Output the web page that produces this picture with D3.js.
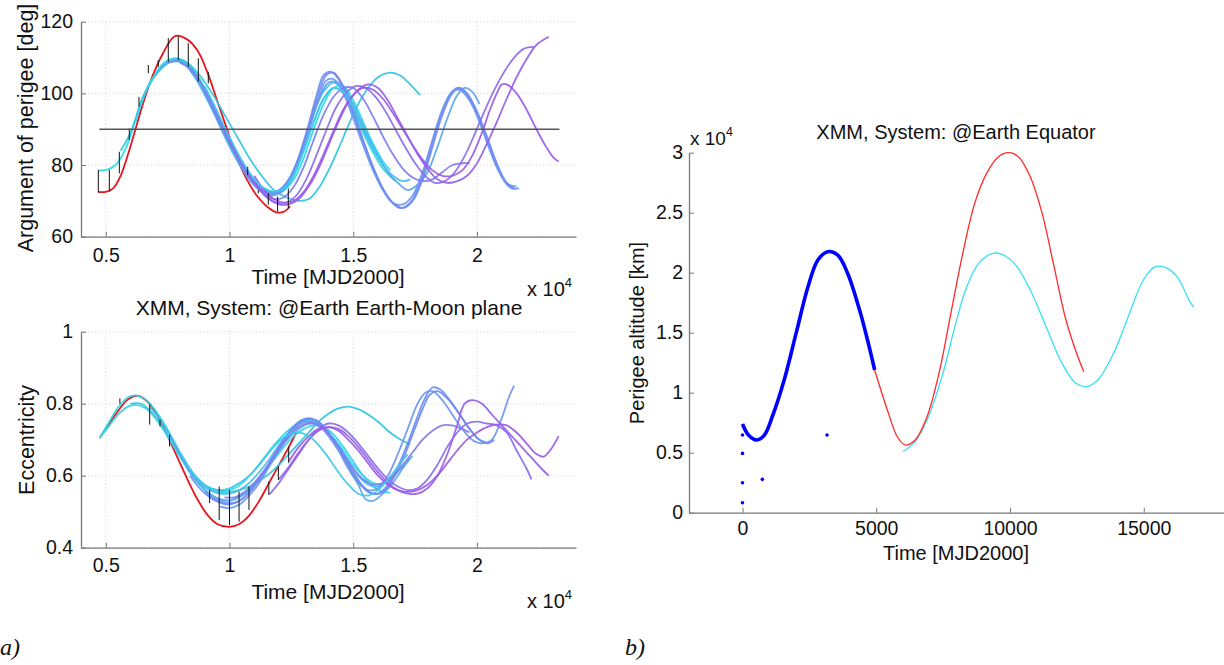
<!DOCTYPE html>
<html>
<head>
<meta charset="utf-8">
<script src="https://cdn.jsdelivr.net/npm/d3@7"></script>
<style>
  body { margin: 0; background: #fff; }
  text { font-family: "Liberation Sans", Arial, sans-serif; fill: #111; }
</style>
</head>
<body>
<div id="main"></div>
<script>
// ---------- data : left panels (time in MJD2000) ----------
const leftXTicks = [5000, 10000, 15000, 20000];
const leftXTickLabels = ['0.5', '1', '1.5', '2'];
const argYTicks = [60, 80, 100, 120];
const eccYTicks = [0.4, 0.6, 0.8, 1];
const eccYTickLabels = ['0.4', '0.6', '0.8', '1'];

// reference trajectory (red)
const argRed = [[4700,72.5],[5000,72.5],[5300,73.5],[5600,77],[5900,83],[6200,90],[6500,97],[6900,105],[7300,111],[7800,116],[8300,115],[8700,112],[9100,106],[9500,98],[9900,90],[10300,82],[10700,76],[11100,71.5],[11500,68.5],[11900,66.8],[12200,67],[12450,68.5]];

// other trajectories, cyan -> purple
const argCurves = [
  [[4700,78.5],[5000,78.6],[5400,80],[5800,84.5],[6200,92.5],[6600,100.5],[7000,105.5],[7400,108.8],[7800,109.8],[8200,109],[8600,106],[9000,101.5],[9400,96],[9800,90.5],[10200,85],[10600,80],[11000,76],[11400,73.5],[11800,72.5],[12200,73],[12600,76],[13000,82],[13400,90],[13800,97],[14200,101.5],[14600,102],[15000,98],[15400,92],[15800,86],[16200,81],[16500,78.5]],
  [[5600,84],[6000,89],[6500,99],[7000,105],[7500,108.5],[7900,109.5],[8300,108.5],[8800,105],[9300,100],[9800,94],[10300,88],[10800,82],[11300,77],[11800,73],[12300,71],[12800,70],[13200,70.5],[13600,73.5],[14000,78.5],[14400,84.5],[14800,91],[15200,97],[15600,101.5],[16000,104.5],[16500,105.8],[16900,105],[17300,102.5],[17700,99.5]],
  [[6200,92],[6600,100],[7000,105],[7400,108],[7800,109.3],[8200,108.5],[8600,105.5],[9000,100.5],[9400,95],[9800,89],[10200,83.5],[10600,79],[11000,75.5],[11400,73],[11800,72],[12200,73],[12600,77],[13000,84],[13400,92],[13800,98.5],[14200,101.5],[14600,100],[15000,95],[15400,89],[15800,83.5],[16200,79],[16700,75.5]],
  [[7000,105],[7400,108],[7800,109],[8200,108],[8600,104.5],[9000,99.5],[9400,94],[9800,88],[10200,82.5],[10600,78],[11000,74.5],[11400,72.5],[11800,72],[12200,73.5],[12600,78.5],[13000,86],[13400,94.5],[13800,100.5],[14200,103],[14600,101],[15000,96],[15400,90],[15800,84.5],[16200,80],[16600,77],[17000,75.5],[17300,76]],
  [[7200,107],[7600,109],[8000,109],[8400,107],[8800,103],[9200,97.5],[9600,91.5],[10000,86],[10400,81],[10800,77],[11200,74],[11600,72.5],[12000,73],[12400,76],[12800,82],[13200,90],[13600,98],[14000,103],[14400,103],[14800,99.5],[15200,94],[15600,88],[16000,82.5],[16400,78],[16800,75],[17200,73],[17600,74.5],[18000,78],[18400,85],[18800,93],[19200,99.5],[19500,101.5],[19800,100.5],[20100,97]],
  [[7500,108.5],[7900,109],[8300,107.5],[8700,104],[9100,99],[9500,93],[9900,87.5],[10300,82],[10700,77.5],[11100,74.5],[11500,72.5],[11900,72.5],[12300,75],[12700,80.5],[13100,89],[13500,99],[13800,105],[14100,106],[14500,103],[14900,96],[15300,88.5],[15700,81],[16100,74.5],[16500,70],[16900,68],[17300,69.5],[17700,75],[18100,84],[18500,93],[18900,99.5],[19200,101.5],[19500,100.5],[19900,96],[20300,89],[20700,81.5],[21100,75.5],[21400,73.5],[21700,73.5]],
  [[8000,108.5],[8400,107],[8800,103.5],[9200,98],[9600,92],[10000,86.5],[10400,81],[10800,76.5],[11200,73.5],[11600,72],[12000,72.5],[12400,75.5],[12800,81.5],[13200,90.5],[13600,100],[13900,105],[14200,105.8],[14600,102],[15000,95],[15400,87],[15800,79.5],[16200,73.5],[16600,69.5],[17000,68],[17400,70],[17800,76],[18200,85],[18600,94],[19000,100],[19300,101.5],[19600,100],[20000,95],[20400,88],[20800,80.5],[21200,75],[21500,73.5]],
  [[8400,106.5],[8800,103],[9200,97.5],[9600,91.5],[10000,86],[10400,80.5],[10800,76],[11200,73],[11600,71.5],[12000,72],[12400,75],[12800,81],[13200,89.5],[13600,98.5],[13900,103.5],[14200,104],[14600,100],[15000,93],[15400,85.5],[15800,78.5],[16200,73],[16600,69.5],[17000,69],[17400,71.5],[17800,78],[18200,87],[18600,95.5],[19000,100.5],[19300,101],[19700,98],[20100,92],[20500,84.5],[20900,78],[21300,74.5],[21600,74]],
  [[9000,101],[9400,95.5],[9800,89.5],[10200,84],[10600,79],[11000,75],[11400,72],[11800,70.5],[12200,71],[12600,74],[13000,79.5],[13400,87],[13800,94],[14200,99],[14600,101.5],[15000,101.5],[15400,98.5],[15800,93.5],[16200,88],[16600,83],[17000,79],[17400,76.5],[17800,75.5],[18200,76],[18600,78],[19000,80],[19400,80.5],[19700,80.5]],
  [[9500,94],[9900,88.5],[10300,83],[10700,78],[11100,74],[11500,71],[11900,69.5],[12300,69.5],[12700,71.5],[13100,76],[13500,82.5],[13900,89.5],[14300,96],[14700,100],[15100,102],[15500,101.5],[15900,99],[16300,95],[16700,90],[17100,85],[17500,80.5],[17900,77],[18300,75],[18700,75.5],[19100,78],[19500,82.5],[19900,88.5],[20300,95],[20700,101],[21100,106],[21500,110],[21900,112.5],[22300,113]],
  [[10000,87],[10400,82],[10800,77.5],[11200,73.5],[11600,70.5],[12000,69],[12400,69],[12800,70.5],[13200,74],[13600,79],[14000,85.5],[14400,92],[14800,97.5],[15200,101],[15600,102.5],[16000,101.5],[16400,98],[16800,93],[17200,88],[17600,83],[18000,79],[18400,76],[18800,75],[19200,75.5],[19600,77],[20000,80.5],[20400,86],[20800,92],[21200,98.5],[21600,104.5],[22000,109.5],[22400,113.5],[22900,115.8]],
  [[11000,77],[11400,73],[11800,70.5],[12200,69.5],[12600,70],[13000,72.5],[13400,77],[13800,83],[14200,89.5],[14600,95.5],[15000,99.5],[15400,101.5],[15800,101],[16200,98.5],[16600,94.5],[17000,90],[17400,85.5],[17800,81.5],[18200,78.5],[18600,77],[19000,77],[19400,78.5],[19800,82.5],[20200,89],[20500,95],[20800,100],[21000,102.5],[21200,102.5],[21600,100],[22000,95.5],[22400,90],[22800,85],[23100,82],[23300,81]],
  [[9000,102],[9400,96.5],[9800,90.5],[10200,85],[10600,80],[11000,76],[11400,73.5],[11800,72.5],[12200,73.5],[12600,77.5],[13000,84],[13400,92],[13800,98.5],[14200,101.5],[14600,100.5],[15000,96],[15400,90],[15800,84.5],[16200,80]]
];

// black jumps between red and the others: [time, low, high]
const argJumps = [[4700,72.3,78.6],[5145,72.6,78.6],[5548,77.7,83.7],[5952,87,90.2],[6343,96.3,99],[6720,105.6,107.9],[7123,107.4,109.3],[7527,108.8,115.4],[7931,109.3,116],[8335,107.4,114],[8739,103.3,109.8],[9143,102.8,106],[10735,77.2,79.5],[11164,72.1,73],[11568,68.9,72.1],[11943,67,71.2],[12376,67.9,73.5]];
const argLevel = [[4740,90],[23330,90]];

const eccRed = [[4750,0.705],[5100,0.74],[5500,0.78],[5900,0.812],[6300,0.822],[6700,0.805],[7100,0.765],[7500,0.71],[7900,0.65],[8300,0.59],[8700,0.535],[9100,0.492],[9500,0.466],[10000,0.458],[10400,0.466],[10800,0.49],[11200,0.53],[11600,0.58],[12000,0.63],[12400,0.68],[12700,0.72]];

const eccCurves = [
  [[4750,0.705],[5100,0.745],[5500,0.79],[5900,0.818],[6200,0.823],[6600,0.812],[7000,0.782],[7400,0.74],[7800,0.69],[8200,0.64],[8600,0.6],[9000,0.575],[9400,0.562],[9800,0.558],[10200,0.565],[10600,0.585],[11000,0.615],[11400,0.65],[11800,0.685],[12200,0.715],[12600,0.738],[13000,0.75],[13400,0.748],[13800,0.732],[14200,0.705],[14600,0.67],[15000,0.63],[15400,0.6],[15800,0.58],[16200,0.575]],
  [[6000,0.8],[6400,0.8],[6800,0.78],[7200,0.745],[7600,0.7],[8000,0.655],[8400,0.615],[8800,0.585],[9200,0.565],[9600,0.555],[10000,0.555],[10400,0.56],[10800,0.57],[11200,0.585],[11600,0.605],[12000,0.63],[12400,0.66],[12800,0.69],[13200,0.72],[13600,0.75],[14000,0.772],[14400,0.787],[14800,0.792],[15200,0.785],[15600,0.77],[16000,0.75],[16400,0.725],[16800,0.705],[17300,0.687]],
  [[4750,0.705],[5100,0.735],[5500,0.77],[5900,0.792],[6200,0.797],[6600,0.788],[7000,0.76],[7400,0.72],[7800,0.675],[8200,0.63],[8600,0.59],[9000,0.56],[9400,0.54],[9800,0.532],[10200,0.535],[10600,0.55],[11000,0.575],[11400,0.61],[11800,0.645],[12200,0.68],[12600,0.71],[13000,0.73],[13400,0.74],[13800,0.735],[14200,0.715],[14600,0.68],[15000,0.64],[15400,0.6],[15800,0.57],[16200,0.555],[16500,0.553]],
  [[6800,0.79],[7200,0.755],[7600,0.71],[8000,0.66],[8400,0.615],[8800,0.58],[9200,0.56],[9600,0.55],[10000,0.55],[10400,0.56],[10800,0.58],[11200,0.61],[11600,0.645],[12000,0.685],[12400,0.72],[12800,0.745],[13200,0.755],[13600,0.745],[14000,0.72],[14400,0.685],[14800,0.64],[15200,0.6],[15600,0.575],[16000,0.57],[16400,0.585],[16800,0.61],[17200,0.64],[17400,0.655]],
  [[7600,0.71],[8000,0.66],[8400,0.61],[8800,0.575],[9200,0.55],[9600,0.535],[10000,0.53],[10400,0.54],[10800,0.56],[11200,0.59],[11600,0.63],[12000,0.67],[12400,0.705],[12800,0.73],[13200,0.745],[13600,0.74],[14000,0.715],[14400,0.675],[14800,0.625],[15200,0.575],[15500,0.535],[15800,0.53],[16200,0.55],[16600,0.58],[17000,0.62],[17300,0.65]],
  [[8400,0.6],[8800,0.565],[9200,0.54],[9600,0.525],[10000,0.52],[10400,0.53],[10800,0.555],[11200,0.59],[11600,0.635],[12000,0.68],[12400,0.72],[12800,0.75],[13200,0.76],[13600,0.75],[14000,0.72],[14400,0.68],[14800,0.63],[15200,0.585],[15600,0.555],[16000,0.55],[16400,0.575],[16800,0.625],[17200,0.69],[17600,0.765],[17900,0.815],[18200,0.845],[18500,0.84],[18900,0.81],[19300,0.77],[19700,0.73],[20100,0.7],[20500,0.69]],
  [[9000,0.555],[9400,0.535],[9800,0.525],[10200,0.525],[10600,0.54],[11000,0.57],[11400,0.61],[11800,0.655],[12200,0.7],[12600,0.735],[13000,0.755],[13400,0.755],[13800,0.735],[14200,0.7],[14600,0.655],[15000,0.61],[15400,0.57],[15800,0.55],[16200,0.555],[16600,0.59],[17000,0.645],[17400,0.715],[17800,0.785],[18100,0.825],[18400,0.835],[18800,0.815],[19200,0.78],[19600,0.74],[20000,0.705],[20400,0.69],[20700,0.7]],
  [[9600,0.515],[10000,0.51],[10400,0.52],[10800,0.545],[11200,0.58],[11600,0.625],[12000,0.67],[12400,0.71],[12800,0.74],[13200,0.75],[13600,0.74],[14000,0.71],[14400,0.67],[14800,0.62],[15200,0.58],[15600,0.56],[16000,0.565],[16400,0.6],[16800,0.66],[17200,0.73],[17600,0.8],[17900,0.83],[18200,0.835],[18600,0.81],[19000,0.77],[19400,0.73],[19800,0.7],[20200,0.69],[20600,0.7],[21000,0.76],[21300,0.82],[21500,0.85]],
  [[9800,0.54],[10200,0.54],[10600,0.555],[11000,0.58],[11400,0.615],[11800,0.655],[12200,0.695],[12600,0.725],[13000,0.742],[13400,0.745],[13800,0.73],[14200,0.7],[14600,0.66],[15000,0.62],[15400,0.59],[15800,0.575],[16200,0.58],[16600,0.6],[17000,0.63],[17400,0.665],[17800,0.7],[18200,0.725],[18600,0.74],[19000,0.74],[19400,0.73],[19700,0.72]],
  [[11600,0.547],[12000,0.58],[12400,0.62],[12800,0.66],[13200,0.7],[13600,0.73],[14000,0.745],[14400,0.74],[14800,0.72],[15200,0.69],[15600,0.655],[16000,0.62],[16400,0.59],[16800,0.57],[17200,0.56],[17600,0.565],[18000,0.59],[18400,0.63],[18800,0.68],[19200,0.72],[19600,0.745],[20000,0.75],[20400,0.745],[20800,0.74],[21200,0.72],[21600,0.67],[22000,0.62],[22200,0.59]],
  [[12000,0.59],[12400,0.625],[12800,0.665],[13200,0.7],[13600,0.725],[14000,0.735],[14400,0.73],[14800,0.71],[15200,0.68],[15600,0.645],[16000,0.61],[16400,0.58],[16800,0.56],[17200,0.55],[17600,0.55],[18000,0.565],[18400,0.6],[18800,0.66],[19200,0.74],[19500,0.8],[19800,0.81],[20200,0.8],[20600,0.77],[21000,0.74],[21400,0.71],[21800,0.68],[22200,0.65],[22600,0.62],[22900,0.6]],
  [[12400,0.64],[12800,0.68],[13200,0.71],[13600,0.73],[14000,0.735],[14400,0.725],[14800,0.7],[15200,0.67],[15600,0.635],[16000,0.6],[16400,0.575],[16800,0.56],[17200,0.555],[17600,0.56],[18000,0.575],[18400,0.6],[18800,0.635],[19200,0.67],[19600,0.7],[20000,0.72],[20400,0.735],[20800,0.742],[21200,0.74],[21600,0.72],[22000,0.69],[22400,0.66],[22700,0.653],[23000,0.675],[23300,0.71]],
  [[8000,0.665],[8400,0.62],[8800,0.585],[9200,0.565],[9600,0.56],[10000,0.565],[10400,0.58],[10800,0.6],[11200,0.63],[11600,0.665],[12000,0.695],[12400,0.715],[12800,0.72],[13200,0.71],[13600,0.685],[14000,0.65],[14400,0.61],[14800,0.575],[15200,0.55],[15600,0.545],[16000,0.56],[16400,0.59],[16800,0.625],[17200,0.66]]
];

const eccJumps = [[5571,0.80,0.815],[6775,0.742,0.797],[7192,0.737,0.756],[7578,0.681,0.714],[9198,0.524,0.561],[9583,0.477,0.570],[10000,0.463,0.561],[10386,0.472,0.556],[10787,0.505,0.570],[11590,0.547,0.584],[11975,0.588,0.626],[12392,0.635,0.681]];

// ---------- data : right panel ----------
const altXTicks = [0, 5000, 10000, 15000];
const altYTicks = [0, 5000, 10000, 15000, 20000, 25000, 30000];
const altYTickLabels = ['0', '0.5', '1', '1.5', '2', '2.5', '3'];

const altBlue = [[0,7390],[223,6470],[519,6060],[816,6470],[1113,8000],[1558,11060],[2003,14940],[2448,18830],[2819,21060],[3190,21750],[3561,21470],[3932,19940],[4377,16890],[4674,14390],[4941,11890]];
const altBlueDots = [[0,6470],[0,4940],[0,2500],[0,830],[742,2780],[3160,6470]];
const altRed = [[4941,11890],[5415,8560],[5786,6330],[6083,5640],[6454,6060],[6899,8000],[7344,11610],[7789,16610],[8234,21610],[8680,25780],[9125,28280],[9570,29670],[9941,30000],[10312,29670],[10757,28000],[11202,24940],[11647,20500],[12092,16060],[12537,13000],[12760,11750]];
const altCyan = [[6009,5080],[6454,5920],[6899,7720],[7493,11610],[7938,15500],[8383,18830],[8828,20780],[9347,21610],[9644,21560],[10163,20780],[10757,18560],[11350,15500],[11944,12440],[12463,10780],[12864,10500],[13279,11060],[13872,13280],[14466,16610],[14985,19390],[15430,20500],[15801,20440],[16246,19670],[16691,17720],[16869,17110]];

// ---------- styles ----------
const curveColors = ['#24dbe6', '#2cc6df', '#36d2ea', '#45bdec', '#5aa6ef', '#6c90f2', '#7288f2', '#6a96f0', '#7f7cf0', '#8a6cee', '#9560ea', '#9b5ae8', '#3ec8ea'];

const W = 1224, H = 665;
const svg = d3.select('div#main').append('svg')
  .attr('width', W).attr('height', H)
  .style('background', '#fff');

const leftX = d3.scaleLinear().domain([4000, 24000]).range([81, 576]);

function axes(g, x, y, xt, xl, yt, yl, padX, padY, grid) {
  if (grid) {
    // dotted grid
    g.selectAll('.gx').data(xt).enter().append('line')
      .attr('x1', d => x(d)).attr('x2', d => x(d))
      .attr('y1', y.range()[0]).attr('y2', y.range()[1])
      .attr('stroke', '#c4c4c4').attr('stroke-width', 0.8).attr('stroke-dasharray', '1,2.5');
    g.selectAll('.gy').data(yt).enter().append('line')
      .attr('x1', x.range()[0]).attr('x2', x.range()[1])
      .attr('y1', d => y(d)).attr('y2', d => y(d))
      .attr('stroke', '#c4c4c4').attr('stroke-width', 0.8).attr('stroke-dasharray', '1,2.5');
  }
  const xa = g.append('g').attr('transform', `translate(0,${y.range()[0]})`)
    .call(d3.axisBottom(x).tickValues(xt).tickFormat((d, i) => xl[i])
      .tickSizeInner(-5).tickSizeOuter(0).tickPadding(padX));
  const ya = g.append('g').attr('transform', `translate(${x.range()[0]},0)`)
    .call(d3.axisLeft(y).tickValues(yt).tickFormat((d, i) => yl[i])
      .tickSizeInner(-5).tickSizeOuter(0).tickPadding(padY));
  [xa, ya].forEach(a => {
    a.select('.domain').attr('stroke', '#777').attr('stroke-width', 1.3);
    a.selectAll('.tick line').attr('stroke', '#777');
    a.selectAll('text').style('font-size', '19.5px').attr('fill', '#111');
  });
}

function sciNote(x, y, size) {
  const t = svg.append('text').attr('x', x).attr('y', y).style('font-size', size + 'px');
  t.append('tspan').text('x 10');
  t.append('tspan').attr('dy', -9).style('font-size', (size * 0.65) + 'px').text('4');
}

function label(x, y, txt, rot, size) {
  svg.append('text')
    .attr('transform', `translate(${x},${y})` + (rot ? ' rotate(-90)' : ''))
    .attr('text-anchor', 'middle').attr('dominant-baseline', 'central')
    .style('font-size', size + 'px').text(txt);
}

function drawLeft(y, red, curves, jumps, yTicks, yLabels, padX) {
  const g = svg.append('g');
  axes(g, leftX, y, leftXTicks, leftXTickLabels, yTicks, yLabels, padX, 8, true);
  const line = d3.line().x(d => leftX(d[0])).y(d => y(d[1])).curve(d3.curveCatmullRom.alpha(0.5));
  g.append('path').datum(red).attr('d', line)
    .attr('fill', 'none').attr('stroke', '#e8141c').attr('stroke-width', 1.8);
  g.selectAll('.c').data(curves).enter().append('path')
    .attr('d', line).attr('fill', 'none')
    .attr('stroke', (d, i) => curveColors[i]).attr('stroke-width', 1.8).attr('opacity', 0.92);
  g.selectAll('.j').data(jumps).enter().append('line')
    .attr('x1', d => leftX(d[0])).attr('x2', d => leftX(d[0]))
    .attr('y1', d => y(d[1])).attr('y2', d => y(d[2]))
    .attr('stroke', '#111').attr('stroke-width', 1);
  return g;
}

// ---------- top-left : argument of perigee ----------
const argY = d3.scaleLinear().domain([60, 120]).range([236.7, 21.7]);
const gTop = drawLeft(argY, argRed, argCurves, argJumps, argYTicks, argYTicks.map(String), 11);
gTop.append('path').datum(argLevel)
  .attr('d', d3.line().x(d => leftX(d[0])).y(d => argY(d[1])))
  .attr('stroke', '#555').attr('stroke-width', 1.5).attr('fill', 'none');
label(26, 128, 'Argument of perigee [deg]', true, 21.5);
label(328, 276, 'Time [MJD2000]', false, 21);
sciNote(527, 296, 20);

// ---------- bottom-left : eccentricity ----------
const eccY = d3.scaleLinear().domain([0.4, 1]).range([547.7, 331.7]);
drawLeft(eccY, eccRed, eccCurves, eccJumps, eccYTicks, eccYTickLabels, 10);
label(329, 307, 'XMM, System: @Earth Earth-Moon plane', false, 21);
label(27, 440, 'Eccentricity', true, 21.5);
label(328, 591, 'Time [MJD2000]', false, 21);
sciNote(527, 608, 20);

// ---------- right : perigee altitude ----------
const altX = d3.scaleLinear().domain([-2000, 18000]).range([689, 1224]);
const altY = d3.scaleLinear().domain([0, 30000]).range([512.7, 152.7]);
const gR = svg.append('g');
axes(gR, altX, altY, altXTicks, altXTicks.map(String), altYTicks, altYTickLabels, 8, 6, false);
const altLine = d3.line().x(d => altX(d[0])).y(d => altY(d[1])).curve(d3.curveCatmullRom.alpha(0.5));
gR.append('path').datum(altCyan).attr('d', altLine)
  .attr('fill', 'none').attr('stroke', '#35e1f2').attr('stroke-width', 1.3);
gR.append('path').datum(altRed).attr('d', altLine)
  .attr('fill', 'none').attr('stroke', '#ff2a2a').attr('stroke-width', 1.3);
gR.append('path').datum(altBlue).attr('d', altLine)
  .attr('fill', 'none').attr('stroke', '#0000ff').attr('stroke-width', 3.6);
gR.selectAll('.dot').data(altBlueDots).enter().append('circle')
  .attr('cx', d => altX(d[0])).attr('cy', d => altY(d[1])).attr('r', 1.8).attr('fill', '#0000ff');
label(956, 132, 'XMM, System: @Earth Equator', false, 20);
label(637, 333, 'Perigee altitude [km]', true, 20);
label(956, 553, 'Time [MJD2000]', false, 20);
sciNote(690, 145, 19);

// panel tags
svg.append('text').attr('x', 0).attr('y', 655)
  .style('font-family', '"Liberation Serif", "Times New Roman", serif').style('font-style', 'italic')
  .style('font-size', '24px').text('a)');
svg.append('text').attr('x', 625).attr('y', 655)
  .style('font-family', '"Liberation Serif", "Times New Roman", serif').style('font-style', 'italic')
  .style('font-size', '24px').text('b)');
</script>
</body>
</html>
